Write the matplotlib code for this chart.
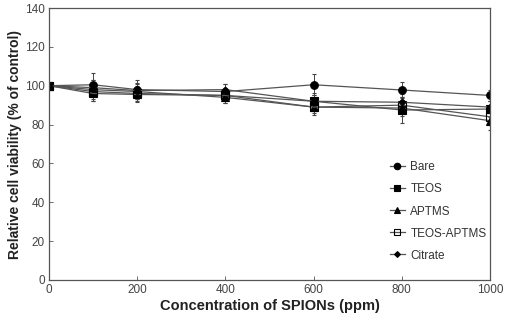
import matplotlib.pyplot as plt
from matplotlib.lines import Line2D

plt.rcParams['font.family'] = ['Liberation Sans', 'DejaVu Sans']

# Data
conc = [0, 100, 200, 400, 600, 800, 1000]
bare = [100, 100.5, 98, 97, 100.5, 97.8, 95]
bare_err = [0, 6, 5, 4, 5.5, 4, 3]
teos = [100, 97, 96, 95, 92, 87.5, 88]
teos_err = [0, 5, 4, 4, 4, 6.5, 4]
aptms = [100, 98, 97, 94, 89, 88.5, 82]
aptms_err = [0, 5, 4, 3, 4, 4, 5]
teos_aptms = [100, 96, 95.5, 95, 89, 90, 84]
teos_aptms_err = [0, 4, 4, 3, 3, 4, 4]
citrate = [100, 99, 97.5, 98, 92, 91.5, 89]
citrate_err = [0, 4, 4, 3, 3, 4, 3]

series = [
    ("Bare", bare, bare_err, "o", "black"),
    ("TEOS", teos, teos_err, "s", "black"),
    ("APTMS", aptms, aptms_err, "^", "black"),
    ("TEOS-APTMS", teos_aptms, teos_aptms_err, "s", "none"),
    ("Citrate", citrate, citrate_err, "D", "black"),
]

fig = plt.figure(figsize=(5.06, 3.18), dpi=100)
ax = fig.add_axes([0.0968, 0.1195, 0.8716, 0.8553])

handles = []
for name, vals, err, mk, fc in series:
    ms = 5.5 if mk != "D" else 3.5
    ax.errorbar(conc, vals, yerr=err, color="#555555", lw=0.9,
                marker=mk, markersize=ms, markerfacecolor=fc,
                markeredgecolor="black", markeredgewidth=0.8,
                ecolor="#444444", elinewidth=0.7, capsize=1.5, capthick=0.6)
    handles.append(Line2D([], [], color="#555555", lw=0.9, marker=mk,
                          markersize=ms * 0.85, markerfacecolor=fc,
                          markeredgecolor="black", markeredgewidth=0.8,
                          label=name))

ax.set_xlim(0, 1000)
ax.set_ylim(0, 140)
ax.set_xticks([0, 200, 400, 600, 800, 1000])
ax.set_yticks(range(0, 141, 20))
ax.tick_params(direction="in", length=3, width=0.6, labelsize=8.5,
               labelcolor="#444444", color="#555555", pad=3)
for s in ax.spines.values():
    s.set_linewidth(0.9)
    s.set_color("#555555")

ax.set_xlabel("Concentration of SPIONs (ppm)", fontsize=10.5, fontweight="bold",
              color="#222222", labelpad=2)
ax.set_ylabel("Relative cell viability (% of control)", fontsize=10, fontweight="bold",
              color="#222222", labelpad=2)

ax.legend(handles=handles, loc="upper left", bbox_to_anchor=(0.75, 0.475),
          frameon=False, fontsize=8.5, labelspacing=0.85, handlelength=1.2,
          handletextpad=0.5, labelcolor="#333333")

plt.savefig("out.png", dpi=100)
